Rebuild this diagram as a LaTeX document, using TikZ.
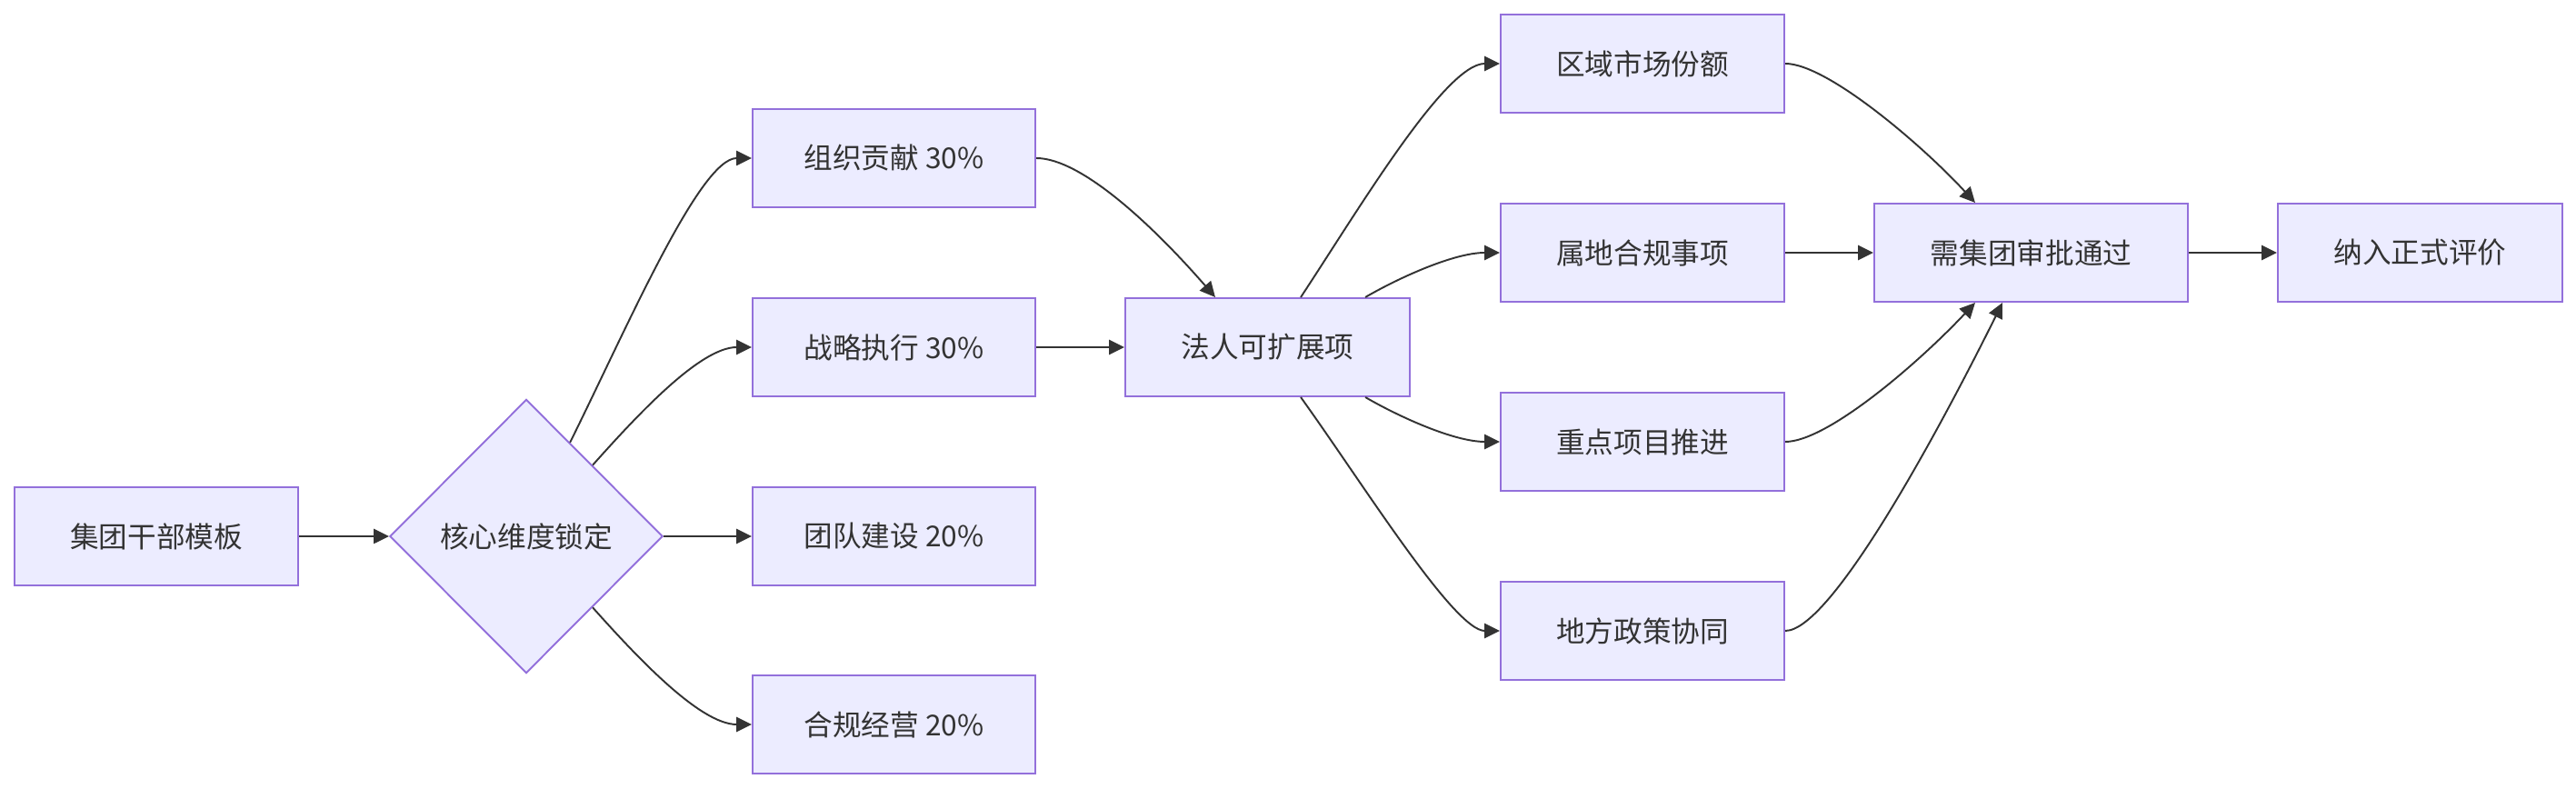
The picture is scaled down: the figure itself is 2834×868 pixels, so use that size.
\documentclass[tikz,border=0pt]{standalone}
\usepackage{fontspec}
\newfontfamily\cjk{Noto Sans CJK SC}
\usetikzlibrary{arrows.meta,shapes.geometric,calc}
\definecolor{boxfill}{HTML}{ECECFF}
\definecolor{boxline}{HTML}{9370DB}
\definecolor{txt}{HTML}{333333}
\definecolor{edge}{HTML}{333333}
\tikzset{
  box/.style={draw=boxline, fill=boxfill, line width=0.55pt, minimum height=1.08cm, inner sep=0pt, text=txt, font=\cjk\fontsize{9pt}{11pt}\selectfont},
  wbox/.style={box, minimum width=3.12cm},
  decision/.style={diamond, aspect=1, draw=boxline, fill=boxfill, line width=0.55pt, minimum width=3.0cm, minimum height=3.01cm, inner sep=0pt, text=txt, font=\cjk\fontsize{9pt}{11pt}\selectfont},
  conn/.style={draw=edge, line width=0.55pt, -{Triangle[length=4.8pt,width=4.6pt]}}
}
\begin{document}
\begin{tikzpicture}[x=0.01cm, y=-0.01cm]
\useasboundingbox (0,0) rectangle (2834,868);
\node[wbox] (A) at (172,590) {集团干部模板};
\node[decision] (B) at (579,590) {核心维度锁定};
\node[wbox, minimum width=3.11cm] (C1) at (983.5,174) {组织贡献 30\%};
\node[wbox, minimum width=3.11cm] (C2) at (983.5,382) {战略执行 30\%};
\node[wbox, minimum width=3.11cm] (C3) at (983.5,590) {团队建设 20\%};
\node[wbox, minimum width=3.11cm] (C4) at (983.5,797) {合规经营 20\%};
\node[wbox, minimum width=3.13cm] (D) at (1394.5,382) {法人可扩展项};
\node[wbox] (E1) at (1807,70) {区域市场份额};
\node[wbox] (E2) at (1807,278) {属地合规事项};
\node[wbox] (E3) at (1807,486) {重点项目推进};
\node[wbox] (E4) at (1807,694) {地方政策协同};
\node[box, minimum width=3.45cm] (F) at (2234.5,278) {需集团审批通过};
\node[wbox, minimum width=3.13cm] (G) at (2662.5,278) {纳入正式评价};

\draw[conn] (A) -- (B);
\draw[conn] (B.65) .. controls (690,360) and (770,174) .. (C1.west);
\draw[conn] (B.47) .. controls (700,458) and (770,382) .. (C2.west);
\draw[conn] (B) -- (C3);
\draw[conn] (B.-47) .. controls (700,722) and (770,797) .. (C4.west);
\draw[conn] (C1.east) .. controls (1190,174) and (1270,250) .. ([xshift=-0.575cm]D.north);
\draw[conn] (C2) -- (D);
\draw[conn] ([xshift=0.365cm]D.north) .. controls (1495,230) and (1590,70) .. (E1.west);
\draw[conn] ([xshift=1.075cm]D.north) .. controls (1540,305) and (1600,278) .. (E2.west);
\draw[conn] ([xshift=1.075cm]D.south) .. controls (1540,459) and (1600,486) .. (E3.west);
\draw[conn] ([xshift=0.365cm]D.south) .. controls (1500,533) and (1600,694) .. (E4.west);
\draw[conn] (E1.east) .. controls (2010,70) and (2115,160) .. ([xshift=-0.615cm]F.north);
\draw[conn] (E2) -- (F);
\draw[conn] (E3.east) .. controls (2010,486) and (2110,400) .. ([xshift=-0.615cm]F.south);
\draw[conn] (E4.east) .. controls (2015,694) and (2135,470) .. ([xshift=-0.315cm]F.south);
\draw[conn] (F) -- (G);
\end{tikzpicture}
\end{document}
